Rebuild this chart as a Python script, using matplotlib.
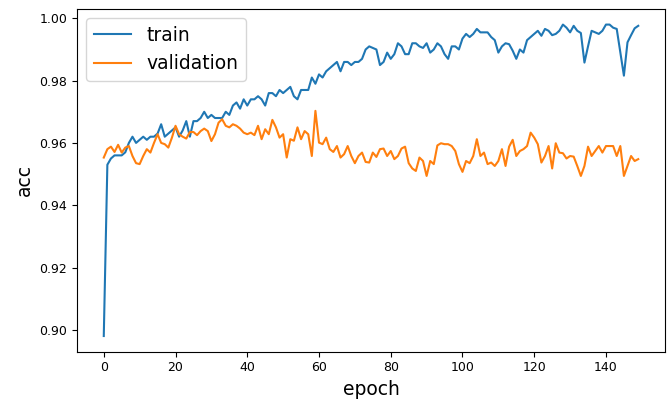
import matplotlib
matplotlib.use("Agg")
import matplotlib.pyplot as plt

# accuracy per epoch
train_acc = [
    0.898, 0.953, 0.955, 0.956, 0.956, 0.956, 0.957, 0.960, 0.962, 0.960,
    0.961, 0.962, 0.961, 0.962, 0.962, 0.963, 0.966, 0.962, 0.963, 0.964,
    0.965, 0.962, 0.964, 0.967, 0.962, 0.967, 0.967, 0.968, 0.970, 0.968,
    0.969, 0.968, 0.968, 0.968, 0.970, 0.969, 0.972, 0.973, 0.971, 0.974,
    0.972, 0.974, 0.974, 0.975, 0.974, 0.972, 0.976, 0.976, 0.975, 0.977,
    0.976, 0.977, 0.978, 0.975, 0.974, 0.977, 0.977, 0.977, 0.981, 0.979,
    0.982, 0.981, 0.983, 0.984, 0.985, 0.986, 0.983, 0.986, 0.986, 0.985,
    0.986, 0.986, 0.987, 0.990, 0.991, 0.9905, 0.990, 0.985, 0.986, 0.989,
    0.987, 0.9885, 0.992, 0.991, 0.9885, 0.9885, 0.992, 0.992, 0.991, 0.9905,
    0.992, 0.989, 0.990, 0.992, 0.991, 0.9885, 0.987, 0.991, 0.991, 0.990,
    0.9935, 0.995, 0.994, 0.995, 0.9966, 0.9955, 0.9955, 0.9955, 0.994, 0.993,
    0.989, 0.991, 0.992, 0.9917, 0.9896, 0.987, 0.990, 0.989, 0.993, 0.994,
    0.995, 0.996, 0.9944, 0.9966, 0.996, 0.9946, 0.995, 0.996, 0.998, 0.997,
    0.9955, 0.9976, 0.996, 0.9953, 0.9858, 0.991, 0.996, 0.9955, 0.995, 0.996,
    0.998, 0.998, 0.997, 0.9966, 0.989, 0.9816, 0.9923, 0.9946, 0.9968, 0.9976,
]

val_acc = [
    0.9553, 0.9580, 0.9588, 0.9571, 0.9594, 0.9569, 0.9585, 0.9590, 0.9558, 0.9535,
    0.9532, 0.9558, 0.9580, 0.9569, 0.9600, 0.9628, 0.9600, 0.9596, 0.9585, 0.9617,
    0.9655, 0.9628, 0.9620, 0.9614, 0.9635, 0.9635, 0.9625, 0.9638, 0.9646, 0.9638,
    0.9606, 0.9628, 0.9665, 0.9676, 0.9655, 0.9650, 0.9660, 0.9655, 0.9646, 0.9633,
    0.9628, 0.9633, 0.9625, 0.9655, 0.9612, 0.9644, 0.9628, 0.9674, 0.9650, 0.9617,
    0.9628, 0.9553, 0.9612, 0.9607, 0.9650, 0.9612, 0.9638, 0.9628, 0.9558, 0.9703,
    0.9601, 0.9596, 0.9617, 0.9580, 0.9571, 0.9590, 0.9553, 0.9564, 0.9590, 0.9558,
    0.9535, 0.9558, 0.9569, 0.9539, 0.9537, 0.9569, 0.9555, 0.9580, 0.9582, 0.9558,
    0.9574, 0.9548, 0.9558, 0.9582, 0.9588, 0.9535, 0.9518, 0.9510, 0.9553, 0.9542,
    0.9494, 0.9542, 0.9532, 0.9592, 0.9599, 0.9596, 0.9596, 0.9590, 0.9574, 0.9532,
    0.9507, 0.9542, 0.9535, 0.9558, 0.9612, 0.9558, 0.9569, 0.9532, 0.9537, 0.9526,
    0.9542, 0.9580, 0.9526, 0.9588, 0.9610, 0.9558, 0.9574, 0.9580, 0.9590, 0.9633,
    0.9617, 0.9596, 0.9537, 0.9558, 0.9590, 0.9518, 0.9599, 0.9569, 0.9567, 0.9550,
    0.9558, 0.9556, 0.9526, 0.9494, 0.9526, 0.9588, 0.9558, 0.9574, 0.9590, 0.9569,
    0.9590, 0.9590, 0.9590, 0.9558, 0.9590, 0.9494, 0.9526, 0.9558, 0.9542, 0.9548,
]

series_names = ["train", "validation"]

fig = plt.figure(figsize=(6.7, 4.0), dpi=100)
ax = fig.add_axes([0.115, 0.121, 0.8775, 0.8565])

ax.plot(train_acc, label=series_names[0], linewidth=1.5)
ax.plot(val_acc, label=series_names[1], linewidth=1.5)

ax.set_xlabel("epoch", fontsize=13.5)
ax.set_ylabel("acc", fontsize=13.5)
ax.tick_params(labelsize=9)
ax.set_yticks([0.90, 0.92, 0.94, 0.96, 0.98, 1.00])
ax.legend(loc="upper left", fontsize=13.5)

fig.savefig("out.png", dpi=100)
